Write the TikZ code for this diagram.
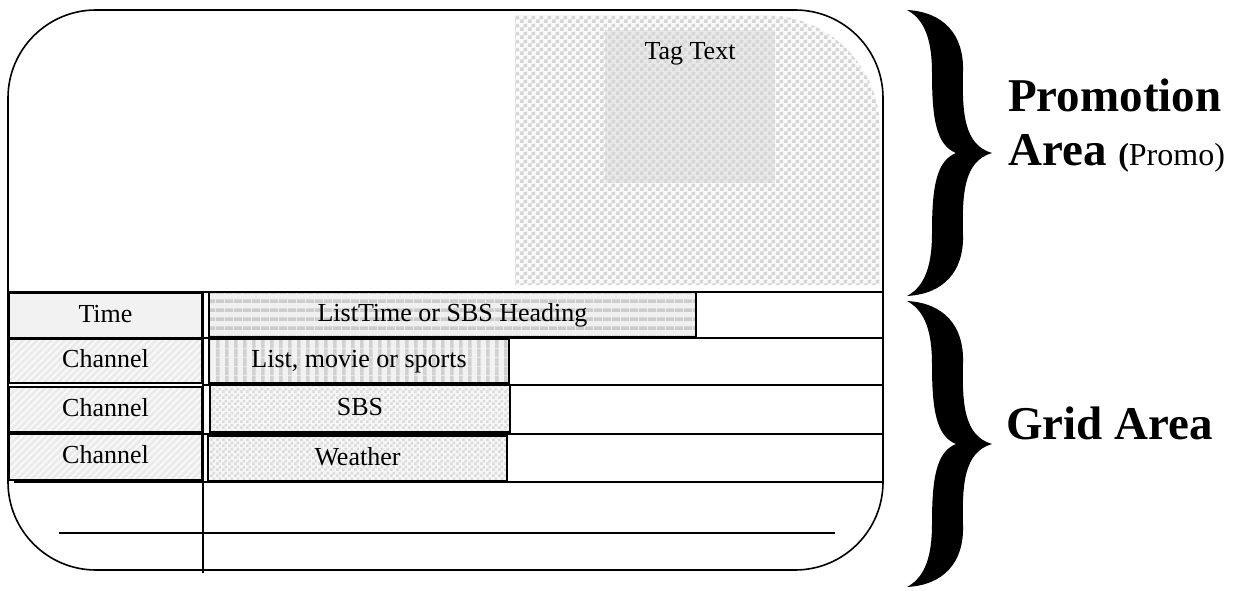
\documentclass[tikz,border=0pt]{standalone}
\usepackage{fontspec}
\setmainfont{Liberation Serif}
\usetikzlibrary{patterns, positioning}

% fill patterns for the screen cells
\pgfdeclarepatternformonly{checker}{\pgfpointorigin}{\pgfpoint{8pt}{8pt}}{\pgfpoint{8pt}{8pt}}{%
  \pgfpathrectangle{\pgfpointorigin}{\pgfpoint{4pt}{4pt}}%
  \pgfpathrectangle{\pgfpoint{4pt}{4pt}}{\pgfpoint{4pt}{4pt}}%
  \pgfusepath{fill}}
\pgfdeclarepatternformonly{finechecker}{\pgfpointorigin}{\pgfpoint{6pt}{6pt}}{\pgfpoint{6pt}{6pt}}{%
  \pgfpathrectangle{\pgfpointorigin}{\pgfpoint{3pt}{3pt}}%
  \pgfpathrectangle{\pgfpoint{3pt}{3pt}}{\pgfpoint{3pt}{3pt}}%
  \pgfusepath{fill}}
\pgfdeclarepatternformonly{hstripes}{\pgfpointorigin}{\pgfpoint{9pt}{9pt}}{\pgfpoint{9pt}{9pt}}{%
  \pgfpathrectangle{\pgfpointorigin}{\pgfpoint{9pt}{4pt}}\pgfusepath{fill}}
\pgfdeclarepatternformonly{vstripes}{\pgfpointorigin}{\pgfpoint{9pt}{9pt}}{\pgfpoint{9pt}{9pt}}{%
  \pgfpathrectangle{\pgfpointorigin}{\pgfpoint{4pt}{9pt}}\pgfusepath{fill}}
\pgfdeclarepatternformonly{hatch}{\pgfpoint{-1pt}{-1pt}}{\pgfpoint{8pt}{8pt}}{\pgfpoint{7pt}{7pt}}{%
  \pgfsetlinewidth{1.6pt}%
  \pgfpathmoveto{\pgfpoint{-1pt}{-1pt}}\pgfpathlineto{\pgfpoint{8pt}{8pt}}%
  \pgfusepath{stroke}}

\newcommand{\cellfont}{\fontsize{26}{30}\selectfont}
% big curly brace, #1 is its tip
\newcommand{\bigbrace}[1]{%
  \fill[shift={#1}] (-85,-143) .. controls (-48,-141) and (-28,-118) .. (-29,-82)
    .. controls (-30,-40) and (-28,-8) .. (0,0)
    .. controls (-28,8) and (-30,40) .. (-29,82)
    .. controls (-28,118) and (-48,141) .. (-85,143)
    .. controls (-66,133) and (-60,110) .. (-60,80)
    .. controls (-60,35) and (-56,8) .. (-36,0)
    .. controls (-56,-8) and (-60,-35) .. (-60,-80)
    .. controls (-60,-110) and (-66,-133) .. (-85,-143) -- cycle;}

\begin{document}
\begin{tikzpicture}[x=1pt, y=-1pt,
    frame/.style={line width=1.6pt, rounded corners=88pt},
    gridline/.style={line width=1.3pt},
    cell/.style={draw, line width=1.4pt, inner sep=0pt, outer sep=0pt,
                 font=\cellfont, text height=18pt, text depth=5pt},
    timecell/.style={cell, fill=gray!10, minimum width=193pt, minimum height=45pt},
    chancell/.style={cell, minimum width=193pt, preaction={fill=gray!16},
                     pattern=hatch, pattern color=gray!4},
    headbar/.style={cell, line width=1.8pt, preaction={fill=gray!12},
                    pattern=hstripes, pattern color=gray!40},
    listbar/.style={cell, preaction={fill=gray!10}, pattern=vstripes, pattern color=gray!36},
    sbsbar/.style={cell, preaction={fill=gray!6}, pattern=finechecker, pattern color=gray!28},
    promoarea/.style={preaction={fill=gray!5}, pattern=checker, pattern color=gray!32},
    tagbox/.style={preaction={fill=gray!18}, pattern=checker, pattern color=gray!32,
                   minimum width=170pt, minimum height=153pt, inner sep=0pt},
    areatext/.style={font=\fontsize{47}{50}\selectfont\bfseries, inner sep=0pt},
]
\useasboundingbox (0,0) rectangle (1239,591);

% promotion area
\path[promoarea] (515,285) -- (515,15) -- (765,15)
    arc[start angle=-90, end angle=0, radius=115] -- (880,285) -- cycle;
\node[tagbox] (tag) at (690,106.5) {};
\node[font=\cellfont, inner sep=0pt, text height=18pt, below=12pt of tag.north] (tagtext) {Tag Text};

% screen outline
\draw[frame] (8,10) rectangle (883,570);

% grid rows
\draw[gridline] (8,292) -- (883,292);
\draw[gridline] (203,338) -- (883,338);
\draw[gridline] (203,385) -- (883,385);
\draw[gridline] (203,434) -- (883,434);
\draw[gridline] (14,482) -- (883,482);
\draw[gridline] (59,533) -- (835,533);
\draw[gridline] (203,291) -- (203,573);

% left column
\node[timecell] (time) at (105.5,315.5) {Time};
\node[chancell, minimum height=44pt] (chan1) at (105.5,361) {Channel};
\node[chancell, minimum height=45pt] (chan2) at (105.5,409.5) {Channel};
\node[chancell, minimum height=46pt] (chan3) at (105.5,457) {Channel};

% programme cells
\node[headbar, minimum width=487pt, minimum height=45pt] (heading) at (452.5,314.5) {ListTime or SBS Heading};
\node[listbar, minimum width=300pt, minimum height=44pt] (list) at (359,361) {List, movie or sports};
\node[sbsbar, minimum width=300pt, minimum height=47pt] (sbs) at (360,408.5) {SBS};
\node[sbsbar, minimum width=299pt, minimum height=45pt] (weather) at (357.5,458.5) {Weather};

% braces and area names
\bigbrace{(992,153)}
\bigbrace{(992,444)}
\node[areatext, anchor=base west] (promo) at (1008,112) {Promotion};
\node[areatext, anchor=base west] (area) at (1008,165)
    {Area {\fontsize{32}{36}\selectfont(\mdseries Promo)}};
\node[areatext, anchor=base west] (grid) at (1006,439) {Grid Area};

\end{tikzpicture}
\end{document}
